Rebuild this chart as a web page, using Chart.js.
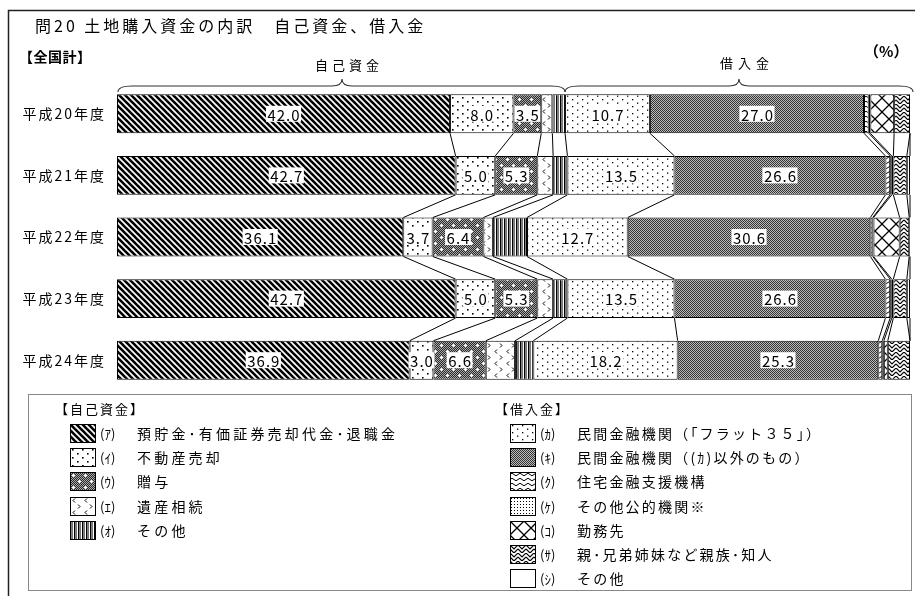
<!DOCTYPE html>
<html lang="ja">
<head>
<meta charset="utf-8">
<script src="https://cdn.jsdelivr.net/npm/chart.js@4.4.1/dist/chart.umd.min.js"></script>
<style>
  body { margin: 0; background: #fff; font-family: "Noto Sans CJK JP", sans-serif; color: #000; }
  #wrap { position: relative; width: 915px; height: 596px; overflow: hidden; }
  #chart { position: absolute; left: 0; top: 0; }
  .t { position: absolute; white-space: nowrap; line-height: 1; }
  #legendBox { position: absolute; left: 28px; top: 394px; width: 884px; height: 197px; border: 1px solid #888; box-sizing: border-box; }
  .sw { position: absolute; }
</style>
</head>
<body>
<div id="wrap">
  <canvas id="chart" width="915" height="596"></canvas>
  <div class="t" style="left:35px;top:17px;font-size:16px;letter-spacing:3px;">問20 土地購入資金の内訳　自己資金、借入金</div>
  <div class="t" style="left:19px;top:49px;font-size:14px;font-weight:bold;letter-spacing:0.5px;">【全国計】</div>
  <div class="t" style="left:315px;top:58px;font-size:13px;letter-spacing:4px;">自己資金</div>
  <div class="t" style="left:720px;top:56px;font-size:13px;letter-spacing:5px;">借入金</div>
  <div class="t" style="left:864px;top:43px;font-size:15px;font-weight:bold;">（%）</div>
  <div id="legendBox"></div>
</div>
<script>
// years (rows)
const years = ['平成20年度', '平成21年度', '平成22年度', '平成23年度', '平成24年度'];

// 自己資金
const savings     = [42.0, 42.7, 36.1, 42.7, 36.9]; // (ｱ)
const realEstate  = [8.0, 5.0, 3.7, 5.0, 3.0];      // (ｲ)
const gift        = [3.5, 5.3, 6.4, 5.3, 6.6];      // (ｳ)
const inheritance = [1.4, 2.0, 1.2, 2.0, 3.7];      // (ｴ)
const selfOther   = [1.6, 1.8, 4.3, 1.8, 2.3];      // (ｵ)
// 借入金
const flat35      = [10.7, 13.5, 12.7, 13.5, 18.2]; // (ｶ)
const privateBank = [27.0, 26.6, 30.6, 26.6, 25.3]; // (ｷ)
const jhf         = [0.6, 0.6, 0.3, 0.6, 0.5];      // (ｸ)
const publicOther = [0.2, 0.2, 0.1, 0.2, 0.2];      // (ｹ)
const employer    = [3.0, 0.2, 3.3, 0.2, 0.5];      // (ｺ)
const relatives   = [2.0, 1.7, 1.2, 1.7, 2.8];      // (ｻ)
const loanOther   = [0.0, 0.4, 0.1, 0.4, 0.0];      // (ｼ)

const selfKeys  = ['ｱ', 'ｲ', 'ｳ', 'ｴ', 'ｵ'];
const selfNames = ['預貯金･有価証券売却代金･退職金', '不動産売却', '贈与', '遺産相続', 'その他'];
const loanKeys  = ['ｶ', 'ｷ', 'ｸ', 'ｹ', 'ｺ', 'ｻ', 'ｼ'];
const loanNames = ['民間金融機関（「フラット３５」）', '民間金融機関（(ｶ)以外のもの）', '住宅金融支援機構',
                   'その他公的機関※', '勤務先', '親･兄弟姉妹など親族･知人', 'その他'];

const series = [savings, realEstate, gift, inheritance, selfOther,
                flat35, privateBank, jhf, publicOther, employer, relatives, loanOther];
const labelled = [0, 1, 2, 5, 6]; // segments that carry a value label

// pattern tiles
function tile(w, h, draw) {
  const c = document.createElement('canvas');
  c.width = w; c.height = h;
  const g = c.getContext('2d');
  g.fillStyle = '#fff';
  g.fillRect(0, 0, w, h);
  draw(g, w, h);
  return c;
}
const tiles = [
  tile(6, 6, g => { // diagonal
    g.strokeStyle = '#000'; g.lineWidth = 2.6;
    for (let o = -6; o <= 6; o += 6) { g.beginPath(); g.moveTo(o - 1, -1); g.lineTo(o + 7, 7); g.stroke(); }
  }),
  tile(10, 8, g => { g.fillStyle = '#000'; g.fillRect(2, 1, 1.6, 1.6); g.fillRect(7, 5, 1.6, 1.6); }),
  tile(12, 12, g => {
    for (let y = 0; y < 12; y++) for (let x = 0; x < 12; x++) {
      g.fillStyle = (x + y) % 2 ? '#2a2a2a' : '#a8a8a8'; g.fillRect(x, y, 1, 1);
    }
    g.fillStyle = '#fff';
    g.fillRect(2, 3, 3, 1); g.fillRect(3, 2, 1, 3);
    g.fillRect(8, 9, 3, 1); g.fillRect(9, 8, 1, 3);
  }),
  tile(12, 12, g => {
    g.strokeStyle = '#000'; g.lineWidth = 1;
    g.beginPath(); g.moveTo(5, 1.5); g.lineTo(3, 3.5); g.lineTo(5, 5.5); g.stroke();
    g.beginPath(); g.moveTo(8, 7.5); g.lineTo(10, 9.5); g.lineTo(8, 11.5); g.stroke();
  }),
  tile(4, 1, g => { g.fillStyle = '#000'; g.fillRect(0, 0, 1.5, 1); g.fillStyle = '#777'; g.fillRect(2, 0, 1, 1); }),
  tile(10, 7, g => { g.fillStyle = '#000'; g.fillRect(2, 1, 1.3, 1.3); g.fillRect(7, 4.5, 1.3, 1.3); }),
  tile(2, 2, g => { g.fillStyle = '#333'; g.fillRect(0, 0, 1, 1); g.fillRect(1, 1, 1, 1); g.fillStyle = '#bbb'; g.fillRect(1, 0, 1, 1); g.fillRect(0, 1, 1, 1); }),
  tile(8, 5, g => {
    g.strokeStyle = '#000'; g.lineWidth = 1;
    g.beginPath(); g.moveTo(0, 2.5); g.quadraticCurveTo(2, 0, 4, 2.5); g.quadraticCurveTo(6, 5, 8, 2.5); g.stroke();
  }),
  tile(3, 3, g => { g.fillStyle = '#000'; g.fillRect(1, 1, 1, 1); }),
  tile(14, 14, g => {
    g.strokeStyle = '#000'; g.lineWidth = 1.3;
    g.beginPath(); g.moveTo(-1, -1); g.lineTo(15, 15); g.moveTo(15, -1); g.lineTo(-1, 15); g.stroke();
  }),
  tile(8, 8, g => {
    g.strokeStyle = '#000'; g.lineWidth = 1.2;
    g.beginPath(); g.moveTo(0, 0); g.lineTo(4, 4); g.lineTo(8, 0);
    g.moveTo(0, 4); g.lineTo(4, 8); g.lineTo(8, 4); g.stroke();
  }),
  tile(2, 2, () => {})
];

const canvas = document.getElementById('chart');
const ctx = canvas.getContext('2d');
const fills = tiles.map(t => ctx.createPattern(t, 'repeat'));

// legend
const box = document.getElementById('legendBox');
function legendColumn(left, header, keys, names, offsetIdx, spacing) {
  const h = document.createElement('div');
  h.className = 't';
  h.style.cssText = `left:${left - 15}px;top:7px;font-size:13px;letter-spacing:2px;`;
  h.textContent = header;
  box.appendChild(h);
  names.forEach((name, i) => {
    const cy = 39 + i * 24.2;
    const sw = document.createElement('canvas');
    sw.width = 26; sw.height = 19; sw.className = 'sw';
    sw.style.left = left + 'px'; sw.style.top = (cy - 10) + 'px';
    const g = sw.getContext('2d');
    g.fillStyle = g.createPattern(tiles[offsetIdx + i], 'repeat');
    g.fillRect(0, 0, 26, 19);
    g.strokeStyle = '#000'; g.lineWidth = 1; g.strokeRect(0.5, 0.5, 25, 18);
    box.appendChild(sw);
    const k = document.createElement('div');
    k.className = 't';
    k.style.cssText = `left:${left + 30}px;top:${cy - 7}px;font-size:13px;`;
    k.textContent = '(' + keys[i] + ')';
    box.appendChild(k);
    const n = document.createElement('div');
    n.className = 't';
    n.style.cssText = `left:${left + 67}px;top:${cy - 8}px;font-size:14px;letter-spacing:${spacing}px;`;
    n.textContent = name;
    box.appendChild(n);
  });
}
legendColumn(41, '【自己資金】', selfKeys, selfNames, 0, 3.2);
legendColumn(481, '【借入金】', loanKeys, loanNames, 5, 2.2);

// braces, frame, connectors, value labels
const decor = {
  id: 'decor',
  beforeDraw(chart) {
    const c = chart.ctx;
    c.save();
    c.strokeStyle = '#222'; c.lineWidth = 1.5;
    c.strokeRect(8.5, 10.5, 930, 620);
    const x = chart.scales.x;
    const selfEnd = x.getPixelForValue(savings[0] + realEstate[0] + gift[0] + inheritance[0] + selfOther[0]);
    function brace(x1, x2, xm) {
      const yb = 86, yt = 79, ye = 92;
      c.beginPath();
      c.moveTo(x1, ye); c.quadraticCurveTo(x1, yb, x1 + 14, yb);
      c.lineTo(xm - 10, yb); c.quadraticCurveTo(xm, yb, xm, yt);
      c.quadraticCurveTo(xm, yb, xm + 10, yb);
      c.lineTo(x2 - 14, yb); c.quadraticCurveTo(x2, yb, x2, ye);
      c.stroke();
    }
    c.strokeStyle = '#333'; c.lineWidth = 1.1;
    brace(x.left + 1, selfEnd, 342);
    brace(selfEnd, x.right + 3, 739);
    c.restore();
    // tick labels are drawn after this with the letter spacing of the reference
    c.letterSpacing = '2px';
  },
  afterDatasetsDraw(chart) {
    const c = chart.ctx;
    const x = chart.scales.x;
    const bars = chart.getDatasetMeta(0).data;
    c.save();
    c.strokeStyle = '#000'; c.lineWidth = 1;
    for (let r = 0; r < years.length - 1; r++) {
      const y1 = bars[r].y + bars[r].height / 2;
      const y2 = bars[r + 1].y - bars[r + 1].height / 2;
      let s1 = 0, s2 = 0;
      for (let k = 0; k < series.length; k++) {
        s1 += series[k][r]; s2 += series[k][r + 1];
        c.beginPath();
        c.moveTo(x.getPixelForValue(s1), y1);
        c.lineTo(x.getPixelForValue(s2), y2);
        c.stroke();
      }
    }
    c.font = '15px "Noto Sans CJK JP", sans-serif';
    c.letterSpacing = '1px';
    c.textAlign = 'center'; c.textBaseline = 'middle';
    labelled.forEach(d => {
      chart.getDatasetMeta(d).data.forEach((el, r) => {
        const txt = series[d][r].toFixed(1);
        const cx = (el.x + el.base) / 2;
        const w = c.measureText(txt).width + 2;
        c.fillStyle = '#fff';
        c.fillRect(cx - w / 2, el.y - 8, w, 16);
        c.fillStyle = '#000';
        c.fillText(txt, cx + 0.5, el.y + 1);
      });
    });
    c.restore();
  }
};

new Chart(ctx, {
  type: 'bar',
  data: {
    labels: years,
    datasets: series.map((vals, i) => ({
      data: vals,
      backgroundColor: fills[i],
      borderColor: '#000',
      borderWidth: 1,
      borderSkipped: false,
      barPercentage: 0.632,
      categoryPercentage: 1
    }))
  },
  options: {
    indexAxis: 'y',
    responsive: false,
    animation: false,
    layout: { padding: { left: 0, right: 5, top: 83, bottom: 205 } },
    plugins: { legend: { display: false }, tooltip: { enabled: false } },
    scales: {
      x: { stacked: true, min: 0, max: 100, display: false },
      y: {
        stacked: true,
        grid: { display: false, drawTicks: false },
        border: { display: false },
        ticks: { color: '#000', padding: 11, font: { family: '"Noto Sans CJK JP", sans-serif', size: 14 } },
        afterFit(scale) { scale.width = 117; }
      }
    }
  },
  plugins: [decor]
});
</script>
</body>
</html>
